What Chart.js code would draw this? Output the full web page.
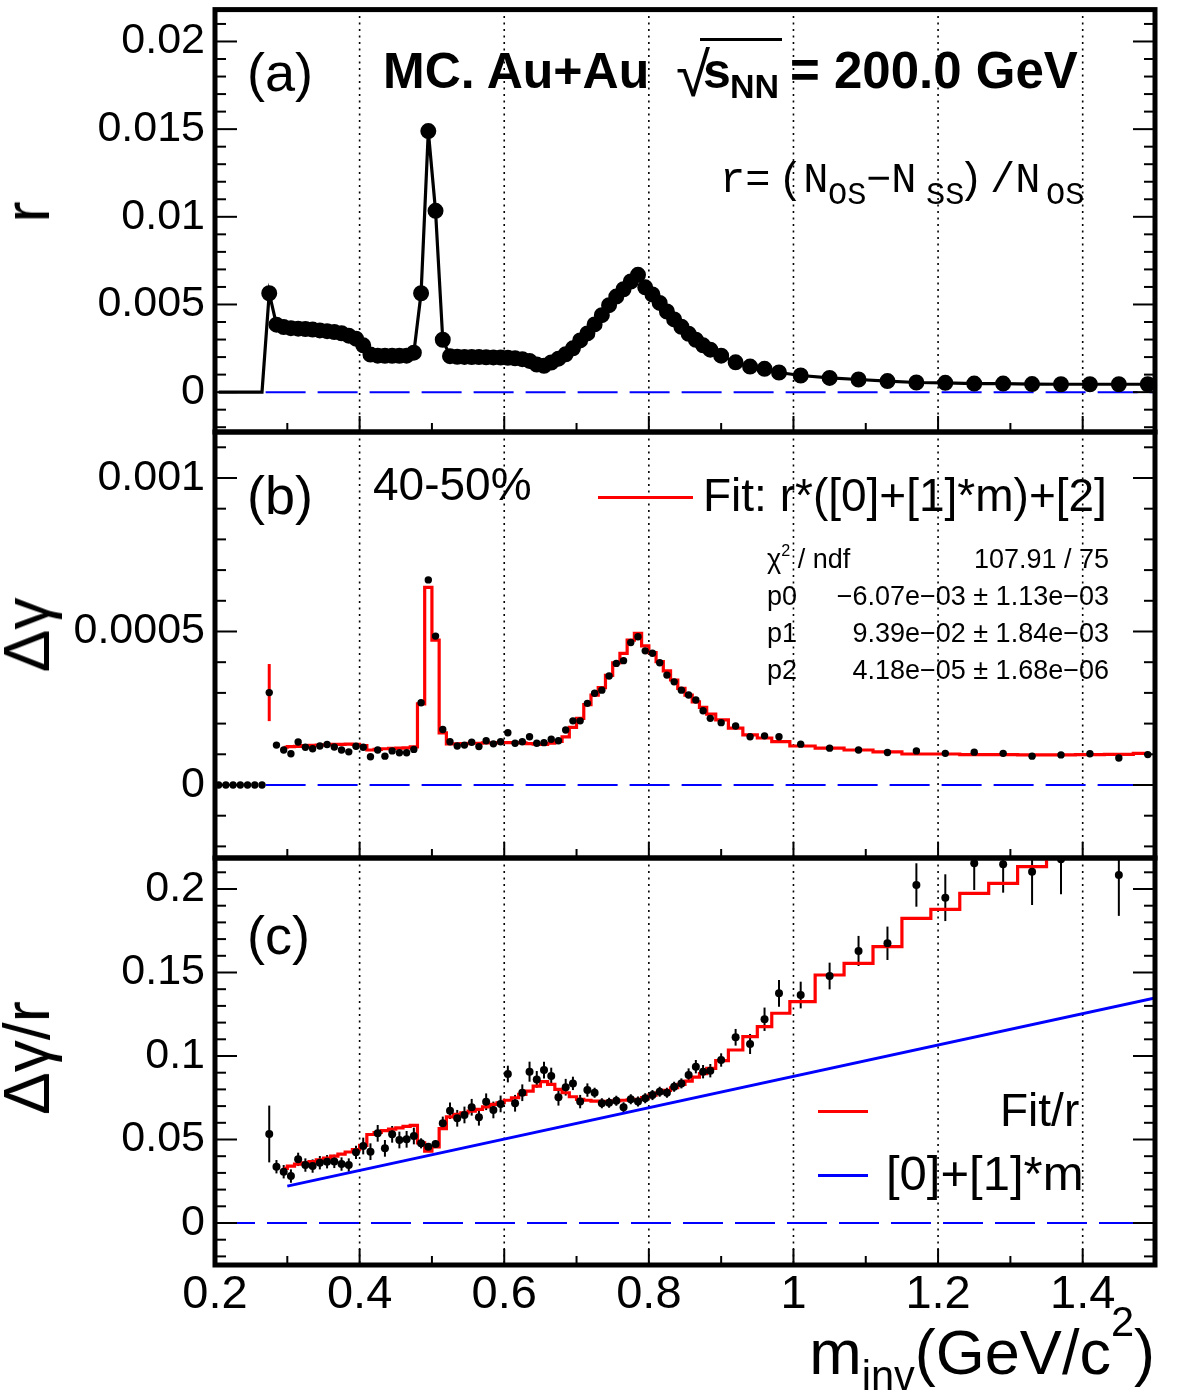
<!DOCTYPE html>
<html>
<head>
<meta charset="utf-8">
<title>MC Au+Au r, Δγ, Δγ/r</title>
<script src="https://cdn.jsdelivr.net/npm/chart.js@4.4.1/dist/chart.umd.min.js"></script>
<style>
  body { margin: 0; background: #fff; }
  #wrap { position: relative; width: 1182px; height: 1396px; overflow: hidden; background: #fff; }
  #wrap canvas { position: absolute; left: 0; }
  .t { position: absolute; white-space: nowrap; line-height: 1; color: #000; font-family: "Liberation Sans", Arial, sans-serif; }
  .sub { font-size: 0.66em; position: relative; top: 0.4em; }
  .sup { font-size: 0.6em; position: relative; top: -0.75em; }
  .hi { font-size: 0.66em; position: relative; top: -0.9em; }
  .seg { position: absolute; height: 3px; }
</style>
</head>
<body>
<div id="wrap">
  <canvas id="cA" width="1182" height="445" style="top:0"></canvas>
  <canvas id="cB" width="1182" height="445" style="top:425px"></canvas>
  <canvas id="cC" width="1182" height="546" style="top:850px"></canvas>
</div>
<script>
// bin centres, GeV/c^2
const mass = [
  0.205, 0.215, 0.225, 0.235, 0.245, 0.255, 0.265,
  0.275, 0.285, 0.295, 0.305, 0.315, 0.325, 0.335, 0.345, 0.355, 0.365, 0.375, 0.385, 0.395,
  0.405, 0.415, 0.425, 0.435, 0.445, 0.455, 0.465, 0.475,
  0.485, 0.495, 0.505, 0.515,
  0.525, 0.535, 0.545, 0.555, 0.565, 0.575, 0.585, 0.595, 0.605, 0.615, 0.625, 0.635, 0.645,
  0.655, 0.665, 0.675, 0.685, 0.695, 0.705, 0.715, 0.725, 0.735, 0.745, 0.755, 0.765, 0.775, 0.785,
  0.795, 0.805, 0.815, 0.825, 0.835, 0.845, 0.855, 0.865, 0.875, 0.885,
  0.90, 0.92, 0.94, 0.96, 0.98, 1.01,
  1.05, 1.09, 1.13, 1.17, 1.21, 1.25, 1.29, 1.33, 1.37, 1.41, 1.45, 1.49
];

// (a) r = (N_OS - N_SS) / N_OS
const rVals = [
  0, 0, 0, 0, 0, 0, 0,
  0.00564, 0.00385, 0.00371, 0.00365, 0.00362, 0.00360, 0.00357, 0.00352, 0.00348, 0.00343, 0.00336, 0.00322, 0.00305,
  0.00267, 0.00214, 0.00208, 0.00207, 0.00207, 0.00207, 0.00208, 0.00225,
  0.00564, 0.01489, 0.01034, 0.00299,
  0.00205, 0.00202, 0.00201, 0.00200, 0.00200, 0.00199, 0.00198, 0.00197, 0.00196, 0.00193, 0.00188, 0.00178, 0.00157,
  0.00150, 0.00169, 0.00191, 0.00216, 0.00250, 0.00295, 0.00335, 0.00386, 0.00439, 0.00496, 0.00545, 0.00587, 0.00631, 0.00669,
  0.00598, 0.00557, 0.00509, 0.00460, 0.00415, 0.00373, 0.00333, 0.00299, 0.00267, 0.00242,
  0.00208, 0.00170, 0.00146, 0.00133, 0.00112, 0.00095,
  0.00081, 0.00072, 0.00063, 0.00055, 0.00053, 0.00049, 0.00049, 0.00046, 0.00045, 0.00045, 0.00045, 0.00045
];

// (b) delta gamma
const dgVals = [
  0, 0, 0, 0, 0, 0, 0,
  3.01e-4, 1.30e-4, 1.14e-4, 1.02e-4, 1.40e-4, 1.23e-4, 1.18e-4, 1.27e-4, 1.32e-4, 1.24e-4, 1.14e-4, 1.08e-4, 1.26e-4,
  1.23e-4, 0.92e-4, 1.14e-4, 0.94e-4, 1.11e-4, 1.05e-4, 1.05e-4, 1.16e-4,
  2.68e-4, 6.68e-4, 4.85e-4, 1.81e-4,
  1.41e-4, 1.27e-4, 1.30e-4, 1.39e-4, 1.25e-4, 1.44e-4, 1.34e-4, 1.41e-4, 1.70e-4, 1.36e-4, 1.41e-4, 1.57e-4, 1.36e-4,
  1.38e-4, 1.49e-4, 1.44e-4, 1.79e-4, 2.09e-4, 2.09e-4, 2.66e-4, 2.99e-4, 3.09e-4, 3.55e-4, 3.96e-4, 4.05e-4, 4.64e-4, 4.83e-4,
  4.37e-4, 4.29e-4, 3.98e-4, 3.58e-4, 3.36e-4, 3.09e-4, 2.93e-4, 2.77e-4, 2.42e-4, 2.17e-4,
  2.03e-4, 1.92e-4, 1.57e-4, 1.60e-4, 1.57e-4, 1.33e-4,
  1.20e-4, 1.14e-4, 1.06e-4, 1.11e-4, 1.03e-4, 1.07e-4, 1.03e-4, 0.94e-4, 0.98e-4, 1.02e-4, 0.88e-4, 0.99e-4
];
const dgErrMass = [0.275];
const dgErrVals = [3.01e-4];
const dgErr = [9.3e-5];

// (b) fit r*([0]+[1]*m)+[2], bins from 0.29
const fitB = [
  1.23e-4, 1.25e-4, 1.26e-4, 1.28e-4, 1.29e-4, 1.30e-4, 1.31e-4, 1.32e-4, 1.32e-4, 1.33e-4, 1.32e-4,
  1.28e-4, 1.14e-4, 1.16e-4, 1.18e-4, 1.19e-4, 1.20e-4, 1.21e-4, 1.24e-4,
  2.64e-4, 6.44e-4, 4.72e-4, 1.70e-4,
  1.34e-4, 1.34e-4, 1.35e-4, 1.36e-4, 1.36e-4, 1.37e-4, 1.37e-4, 1.38e-4, 1.38e-4, 1.38e-4, 1.37e-4, 1.35e-4, 1.33e-4,
  1.32e-4, 1.36e-4, 1.42e-4, 1.57e-4, 1.88e-4, 2.17e-4, 2.62e-4, 2.93e-4, 3.17e-4, 3.57e-4, 3.98e-4, 4.29e-4, 4.72e-4, 4.94e-4,
  4.53e-4, 4.31e-4, 4.02e-4, 3.72e-4, 3.42e-4, 3.15e-4, 2.93e-4, 2.71e-4, 2.53e-4, 2.31e-4,
  2.12e-4, 1.85e-4, 1.63e-4, 1.53e-4, 1.41e-4, 1.27e-4,
  1.20e-4, 1.14e-4, 1.08e-4, 1.01e-4, 1.01e-4, 0.99e-4, 0.99e-4, 0.98e-4, 0.98e-4, 0.99e-4, 1.00e-4, 1.03e-4
];

// (c) delta gamma / r, bins from 0.27
const ratioVals = [
  0.0533, 0.0337, 0.0307, 0.0281, 0.0381, 0.0347, 0.0341, 0.0361, 0.0367, 0.0369, 0.0353, 0.0347, 0.0423,
  0.0461, 0.0427, 0.0537, 0.0447, 0.0531, 0.0497, 0.0501, 0.0521,
  0.0477, 0.0457, 0.0473, 0.0597,
  0.0672, 0.0627, 0.0647, 0.0693, 0.0633, 0.0726, 0.0677, 0.0713, 0.0892, 0.0717, 0.0780, 0.0906, 0.0860,
  0.0916, 0.0880, 0.0753, 0.0813, 0.0836, 0.0727, 0.0796, 0.0780, 0.0717, 0.0720, 0.0732, 0.0693, 0.0741, 0.0727,
  0.0747, 0.0766, 0.0786, 0.0780, 0.0816, 0.0836, 0.0886, 0.0936, 0.0906, 0.0912,
  0.0976, 0.1112, 0.1072, 0.1220, 0.1375, 0.1365,
  0.1479, 0.1629, 0.1675, 0.2024, 0.1948, 0.2154, 0.2148, 0.2104, 0.2178, 0.245, 0.2084, 0.250
];
const ratioErr = [
  0.017, 0.004, 0.004, 0.004, 0.004, 0.004, 0.004, 0.004, 0.004, 0.004, 0.004, 0.004, 0.004,
  0.005, 0.005, 0.005, 0.005, 0.005, 0.005, 0.005, 0.005,
  0.003, 0.002, 0.002, 0.004,
  0.005, 0.005, 0.005, 0.005, 0.005, 0.005, 0.005, 0.005, 0.005, 0.005, 0.005, 0.006, 0.005,
  0.005, 0.005, 0.005, 0.005, 0.004, 0.004, 0.004, 0.003, 0.003, 0.003, 0.003, 0.003, 0.003, 0.003,
  0.003, 0.003, 0.003, 0.003, 0.003, 0.003, 0.004, 0.004, 0.004, 0.004,
  0.004, 0.005, 0.006, 0.007, 0.008, 0.008,
  0.008, 0.009, 0.010, 0.013, 0.014, 0.016, 0.017, 0.020, 0.021, 0.022, 0.0245, 0.025
];

// (c) Fit/r, bins from 0.29
const fitR = [
  0.0327, 0.0340, 0.0352, 0.0360, 0.0368, 0.0378, 0.0388, 0.0400, 0.0412, 0.0425, 0.0440,
  0.0465, 0.0530, 0.0542, 0.0553, 0.0562, 0.0570, 0.0578, 0.0585,
  0.0480, 0.0430, 0.0455, 0.0565,
  0.0636, 0.0650, 0.0660, 0.0670, 0.0680, 0.0695, 0.0710, 0.0720, 0.0735, 0.0750, 0.0770, 0.0790, 0.0820,
  0.0846, 0.0830, 0.0800, 0.0780, 0.0756, 0.0740, 0.0735, 0.0730, 0.0729, 0.0729, 0.0731, 0.0735, 0.0737, 0.0741,
  0.0751, 0.0766, 0.0780, 0.0794, 0.0810, 0.0830, 0.0850, 0.0874, 0.0894, 0.0926,
  0.0972, 0.1036, 0.1116, 0.1176, 0.1256, 0.1325,
  0.1485, 0.1555, 0.1655, 0.1824, 0.1878, 0.1974, 0.2034, 0.2134, 0.2220, 0.2290, 0.2360, 0.2400
];

// (c) [0]+[1]*m
const lineMass = [0.3, 1.5];
const lineVals = [0.0221, 0.1348];

const zeroMassAB = [0.27, 1.5];
const zeroMassC = [0.2, 1.5];
const zeroVals = [0, 0];

const xTicks = [0.2, 0.4, 0.6, 0.8, 1, 1.2, 1.4];
const xGrid = [0.4, 0.6, 0.8, 1, 1.2, 1.4];
const yTicksA = [0, 0.005, 0.01, 0.015, 0.02];
const yTicksB = [0, 0.0005, 0.001];
const yTicksC = [0, 0.05, 0.1, 0.15, 0.2];

const fitMass = mass.slice(9);
const ratioMass = mass.slice(7);
const pts = (xs, ys) => xs.map((m, i) => ({ x: m, y: ys[i] }));

Chart.defaults.font.family = '"Liberation Sans", Arial, sans-serif';
Chart.defaults.color = '#000';

// ROOT style frame: dotted x grid, inner ticks, thick box, error bars
const rootFrame = {
  id: 'rootFrame',
  beforeDatasetsDraw(chart, args, o) {
    const { ctx, chartArea: a, scales: { x, y } } = chart;
    ctx.save();
    ctx.strokeStyle = '#000';
    ctx.lineWidth = 1.6;
    ctx.setLineDash([2, 4.5]);
    xGrid.forEach(v => {
      const px = x.getPixelForValue(v);
      ctx.beginPath(); ctx.moveTo(px, a.top); ctx.lineTo(px, a.bottom); ctx.stroke();
    });
    ctx.setLineDash([]);
    ctx.beginPath(); ctx.rect(a.left, a.top, a.width, a.height); ctx.clip();
    (o.bars || []).forEach(b => {
      ctx.strokeStyle = b.color;
      ctx.lineWidth = b.width;
      b.mass.forEach((m, i) => {
        const px = x.getPixelForValue(m);
        ctx.beginPath();
        ctx.moveTo(px, y.getPixelForValue(b.vals[i] - b.errs[i]));
        ctx.lineTo(px, y.getPixelForValue(b.vals[i] + b.errs[i]));
        ctx.stroke();
      });
    });
    ctx.restore();
  },
  afterDraw(chart, args, o) {
    const { ctx, chartArea: a, scales: { x, y } } = chart;
    const seg = (x0, y0, x1, y1) => { ctx.beginPath(); ctx.moveTo(x0, y0); ctx.lineTo(x1, y1); ctx.stroke(); };
    ctx.save();
    ctx.strokeStyle = '#000';
    ctx.lineWidth = 2;
    const n0 = Math.ceil(y.min / o.minor - 1e-6), n1 = Math.floor(y.max / o.minor + 1e-6);
    for (let k = n0; k <= n1; k++) {
      const v = k * o.minor;
      const major = Math.abs(v / o.major - Math.round(v / o.major)) < 1e-6;
      const py = y.getPixelForValue(v);
      const len = major ? 22 : 11;
      seg(a.left, py, a.left + len, py);
      seg(a.right, py, a.right - len, py);
    }
    for (let k = 2; k <= 15; k++) {
      const px = x.getPixelForValue(k / 10);
      seg(px, a.bottom, px, a.bottom - (k % 2 === 0 ? 16 : 9));
    }
    ctx.lineWidth = 5;
    ctx.strokeRect(a.left, a.top, a.width, a.height);
    ctx.restore();
  }
};

function makeChart(id, datasets, cfg) {
  return new Chart(document.getElementById(id), {
    type: 'line',
    data: { datasets },
    options: {
      responsive: false,
      animation: false,
      events: [],
      layout: { padding: { left: 0, right: 27, top: cfg.padTop, bottom: cfg.padBottom } },
      elements: { line: { tension: 0 }, point: { pointStyle: 'circle', borderWidth: 0, hoverRadius: 0 } },
      plugins: {
        legend: { display: false },
        tooltip: { enabled: false },
        rootFrame: { minor: cfg.minor, major: cfg.major, bars: cfg.bars }
      },
      scales: {
        x: {
          type: 'linear', min: 0.2, max: 1.5, bounds: 'data',
          display: cfg.showX,
          grid: { display: false, drawTicks: false },
          border: { display: false },
          afterBuildTicks: s => { s.ticks = xTicks.map(v => ({ value: v })); },
          afterFit: s => { s.height = cfg.showX ? 60 : 0; s.paddingLeft = 0; s.paddingRight = 0; },
          ticks: { font: { size: 47 }, color: '#000', padding: 2, maxRotation: 0, autoSkip: false, callback: v => String(v) }
        },
        y: {
          type: 'linear', min: cfg.min, max: cfg.max, bounds: 'data',
          grid: { display: false, drawTicks: false },
          border: { display: false },
          afterBuildTicks: s => { s.ticks = cfg.ticks.map(v => ({ value: v })); },
          afterFit: s => { s.width = 215; s.paddingTop = 0; s.paddingBottom = 0; },
          ticks: { font: { size: 43 }, color: '#000', padding: 10, autoSkip: false, callback: v => String(v) }
        }
      }
    },
    plugins: [rootFrame]
  });
}

const dashed = xs => ({
  data: pts(xs, zeroVals), borderColor: '#0000ff', borderWidth: 2, borderDash: [40, 12], pointRadius: 0
});

makeChart('cA', [
  {
    data: pts(mass, rVals), borderColor: '#000', borderWidth: 3.2,
    pointRadius: c => (c.raw && c.raw.y > 0 ? 6.4 : 0), pointBackgroundColor: '#000'
  },
  dashed(zeroMassAB)
], { padTop: 8, padBottom: 13, min: -0.002273, max: 0.021818, ticks: yTicksA, minor: 0.001, major: 0.005, showX: false });

makeChart('cB', [
  { data: pts(mass, dgVals), showLine: false, pointRadius: 3.7, pointBackgroundColor: '#000' },
  { data: pts(fitMass, fitB), borderColor: '#ff0000', borderWidth: 3.2, stepped: 'middle', pointRadius: 0 },
  dashed(zeroMassAB)
], {
  padTop: 7, padBottom: 12, min: -0.0002378, max: 0.0011498, ticks: yTicksB, minor: 0.0001, major: 0.0005, showX: false,
  bars: [{ mass: dgErrMass, vals: dgErrVals, errs: dgErr, color: '#ff0000', width: 3 }]
});

makeChart('cC', [
  { data: pts(ratioMass, ratioVals), showLine: false, pointRadius: 4, pointBackgroundColor: '#000' },
  { data: pts(fitMass, fitR), borderColor: '#ff0000', borderWidth: 3.2, stepped: 'middle', pointRadius: 0 },
  { data: pts(lineMass, lineVals), borderColor: '#0000ff', borderWidth: 3, pointRadius: 0 },
  dashed(zeroMassC)
], {
  padTop: 8, padBottom: 71, min: -0.02515, max: 0.21856, ticks: yTicksC, minor: 0.01, major: 0.05, showX: true,
  bars: [{ mass: ratioMass, vals: ratioVals, errs: ratioErr, color: '#000', width: 2 }]
});

// text
const wrap = document.getElementById('wrap');
function put(html, x, base, size, o = {}) {
  const d = document.createElement('div');
  d.className = 't';
  d.innerHTML = html;
  d.style.fontSize = size + 'px';
  let asc = 0.8465;
  if (o.mono) { d.style.fontFamily = '"Liberation Mono", "Courier New", monospace'; asc = 0.7665; }
  if (o.bold) d.style.fontWeight = 'bold';
  d.style.top = (base - asc * size) + 'px';
  if (o.right) d.style.right = (1182 - x) + 'px'; else d.style.left = x + 'px';
  wrap.appendChild(d);
  return d;
}
function rot(html, cx, cy, size) {
  const d = document.createElement('div');
  d.className = 't';
  d.innerHTML = html;
  d.style.fontSize = size + 'px';
  d.style.left = cx + 'px';
  d.style.top = cy + 'px';
  d.style.transform = 'translate(-50%,-50%) rotate(-90deg)';
  wrap.appendChild(d);
}
function bar(x, y, w, color) {
  const d = document.createElement('div');
  d.className = 'seg';
  d.style.left = x + 'px'; d.style.top = (y - 1.5) + 'px'; d.style.width = w + 'px'; d.style.background = color;
  wrap.appendChild(d);
}

// panel (a)
put('(a)', 247, 91, 54);
put('MC. Au+Au', 383, 88, 50, { bold: true });
put('√', 676, 96, 62);
bar(700, 39, 82, '#000');
put('s', 703, 88, 50, { bold: true });
put('NN', 730, 98, 34, { bold: true });
put('= 200.0 GeV', 790, 88, 51, { bold: true });
put('r=', 720, 192, 42, { mono: true });
put('(N', 778, 192, 42, { mono: true });
put('OS', 828, 205, 32, { mono: true });
put('−N', 866, 192, 42, { mono: true });
put('SS', 926, 205, 32, { mono: true });
put(')', 958, 192, 42, { mono: true });
put('/N', 990, 192, 42, { mono: true });
put('OS', 1046, 205, 32, { mono: true });

// panel (b)
put('(b)', 247, 514, 54);
put('40-50%', 373, 500, 46);
bar(598, 497, 95, '#ff0000');
put('Fit: r*([0]+[1]*m)+[2]', 703, 511, 46);
put('χ<span class="sup">2</span> / ndf', 767, 569, 27);
put('107.91 / 75', 1109, 569, 27, { right: true });
put('p0', 767, 606, 27);
put('−6.07e−03 ± 1.13e−03', 1109, 606, 27, { right: true });
put('p1', 767, 643, 27);
put('9.39e−02 ± 1.84e−03', 1109, 643, 27, { right: true });
put('p2', 767, 680, 27);
put('4.18e−05 ± 1.68e−06', 1109, 680, 27, { right: true });

// panel (c)
put('(c)', 247, 954, 54);
bar(818, 1111, 50, '#ff0000');
put('Fit/r', 1000, 1126, 46);
bar(818, 1175, 50, '#0000ff');
put('[0]+[1]*m', 886, 1190, 49);

// axis titles
rot('r', 27, 212, 64);
rot('Δγ', 27, 635, 64);
rot('Δγ/r', 27, 1058, 64);
put('m<span class="sub">inv</span>(GeV/c<span class="hi">2</span>)', 1155, 1374, 63, { right: true });
</script>
</body>
</html>
